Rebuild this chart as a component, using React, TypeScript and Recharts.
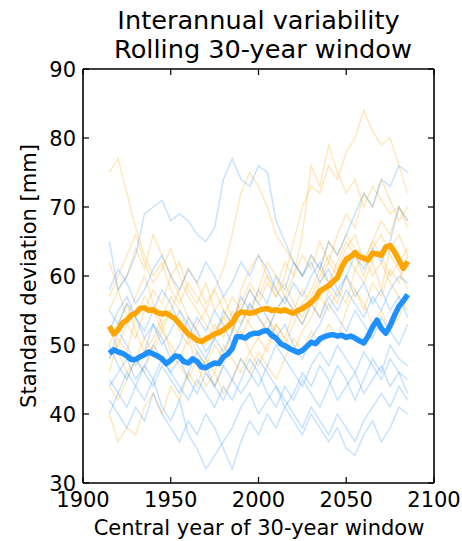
import { LineChart, Line, XAxis, YAxis } from 'recharts';

// ensemble members, one value every 5 years
const memberYears = [
  1915, 1920, 1925, 1930, 1935, 1940, 1945, 1950, 1955, 1960, 1965, 1970,
  1975, 1980, 1985, 1990, 1995, 2000, 2005, 2010, 2015, 2020, 2025, 2030,
  2035, 2040, 2045, 2050, 2055, 2060, 2065, 2070, 2075, 2080, 2085,
];

const orangeMembers = [
  [75, 77, 72, 67, 63, 60, 62, 58, 56, 59, 57, 55, 58, 61, 66, 72, 75, 73, 70, 66, 64, 62, 60, 63, 61, 65, 63, 66, 64, 62, 65, 63, 60, 62, 64],
  [55, 58, 54, 57, 60, 56, 53, 55, 52, 50, 53, 55, 52, 54, 57, 55, 58, 56, 59, 57, 60, 65, 70, 73, 72, 76, 74, 78, 80, 84, 81, 79, 80, 76, 72],
  [48, 50, 53, 51, 55, 58, 56, 60, 57, 54, 52, 50, 53, 51, 55, 53, 56, 54, 52, 55, 57, 60, 66, 76, 73, 79, 75, 72, 74, 70, 73, 71, 69, 70, 68],
  [40, 36, 38, 37, 41, 43, 40, 44, 42, 46, 44, 48, 46, 50, 48, 46, 49, 51, 49, 53, 51, 55, 53, 56, 54, 58, 56, 60, 58, 55, 59, 57, 61, 59, 63],
  [62, 58, 60, 64, 61, 66, 63, 60, 62, 58, 56, 59, 55, 57, 54, 56, 59, 57, 60, 58, 62, 60, 63, 61, 65, 62, 66, 69, 67, 72, 70, 74, 71, 68, 70],
  [50, 53, 56, 52, 49, 51, 54, 57, 55, 52, 49, 47, 50, 48, 52, 55, 53, 51, 54, 52, 50, 53, 56, 58, 61, 59, 62, 65, 63, 60, 64, 66, 63, 61, 58],
  [44, 42, 45, 48, 46, 50, 53, 49, 47, 45, 48, 46, 44, 47, 50, 52, 49, 47, 50, 53, 51, 49, 52, 54, 57, 55, 58, 56, 61, 63, 60, 62, 59, 57, 55],
  [57, 60, 63, 66, 62, 59, 61, 64, 60, 57, 55, 53, 51, 54, 52, 58, 61, 63, 60, 57, 59, 56, 54, 57, 60, 63, 61, 64, 66, 62, 65, 68, 66, 70, 67],
  [53, 49, 46, 48, 51, 49, 52, 50, 48, 51, 47, 44, 46, 43, 45, 48, 46, 49, 47, 45, 48, 51, 49, 52, 50, 53, 51, 55, 58, 56, 53, 55, 52, 54, 57],
  [46, 51, 49, 54, 57, 55, 52, 55, 58, 61, 59, 56, 58, 55, 53, 51, 54, 58, 62, 60, 57, 55, 58, 56, 59, 62, 60, 63, 61, 59, 62, 58, 64, 66, 63],
];

const blueMembers = [
  [65, 58, 60, 63, 69, 70, 71, 68, 69, 68, 66, 65, 67, 74, 77, 74, 73, 76, 75, 68, 65, 62, 60, 62, 59, 61, 58, 60, 57, 59, 56, 58, 55, 57, 54],
  [48, 52, 50, 47, 49, 53, 51, 48, 50, 54, 52, 49, 51, 55, 53, 57, 55, 58, 56, 60, 58, 62, 60, 63, 61, 65, 63, 66, 69, 72, 70, 74, 73, 76, 75],
  [45, 43, 46, 44, 42, 45, 41, 39, 42, 37, 35, 32, 34, 36, 38, 41, 43, 40, 42, 44, 41, 43, 46, 44, 47, 45, 42, 44, 46, 43, 45, 47, 44, 46, 43],
  [42, 40, 38, 41, 39, 43, 40, 38, 36, 39, 37, 40, 38, 35, 32, 36, 39, 37, 40, 38, 41, 39, 37, 40, 38, 36, 38, 35, 34, 37, 39, 36, 38, 41, 40],
  [50, 47, 45, 48, 46, 44, 47, 45, 43, 46, 49, 47, 44, 42, 45, 48, 46, 44, 47, 50, 48, 46, 44, 47, 49, 47, 50, 48, 46, 49, 47, 45, 48, 46, 45],
  [55, 53, 56, 54, 52, 55, 58, 56, 53, 51, 54, 52, 55, 53, 50, 53, 56, 54, 52, 55, 57, 55, 53, 56, 54, 57, 55, 58, 56, 54, 57, 55, 58, 60, 59],
  [40, 43, 41, 44, 47, 45, 48, 46, 44, 42, 45, 43, 41, 44, 42, 45, 48, 46, 43, 41, 44, 42, 45, 43, 41, 44, 47, 45, 42, 45, 48, 46, 50, 48, 47],
  [52, 55, 57, 54, 51, 53, 50, 52, 55, 53, 50, 48, 51, 49, 52, 55, 58, 56, 54, 51, 53, 50, 48, 51, 53, 56, 54, 52, 55, 53, 51, 54, 52, 50, 53],
  [58, 61, 59, 56, 58, 61, 63, 60, 58, 61, 59, 62, 60, 57, 59, 62, 60, 63, 61, 58, 56, 59, 57, 60, 62, 59, 57, 60, 63, 61, 64, 62, 65, 70, 68],
  [44, 46, 48, 45, 47, 50, 48, 46, 48, 45, 43, 46, 44, 47, 45, 43, 45, 48, 46, 44, 42, 40, 38, 41, 39, 37, 40, 38, 36, 39, 41, 43, 41, 44, 42],
];

// ensemble means
const meanYears = [
  1915, 1917.5, 1920, 1922.5, 1925, 1927.5, 1930, 1932.5, 1935, 1937.5,
  1940, 1942.5, 1945, 1947.5, 1950, 1952.5, 1955, 1957.5, 1960, 1962.5,
  1965, 1967.5, 1970, 1972.5, 1975, 1977.5, 1980, 1982.5, 1985, 1987.5,
  1990, 1992.5, 1995, 1997.5, 2000, 2002.5, 2005, 2007.5, 2010, 2012.5,
  2015, 2017.5, 2020, 2022.5, 2025, 2027.5, 2030, 2032.5, 2035, 2037.5,
  2040, 2042.5, 2045, 2047.5, 2050, 2052.5, 2055, 2057.5, 2060, 2062.5,
  2065, 2067.5, 2070, 2072.5, 2075, 2077.5, 2080, 2082.5, 2085,
];

const orangeMean = [
  52.7, 51.6, 52.2, 53.2, 53.6, 54.3, 54.6, 55.3, 55.4, 55.0,
  55.1, 54.7, 54.5, 54.6, 54.2, 53.8, 53.1, 52.3, 51.6, 51.2,
  50.7, 50.5, 50.9, 51.2, 51.6, 51.8, 52.2, 52.7, 53.2, 54.3,
  54.8, 54.7, 54.6, 54.7, 55.0, 55.2, 55.3, 55.0, 55.1, 54.9,
  55.1, 54.8, 54.6, 55.0, 55.3, 55.7, 56.2, 56.8, 57.8, 58.2,
  58.6, 59.2, 59.8, 61.3, 62.4, 62.8, 63.4, 62.8, 62.6, 62.3,
  63.3, 63.2, 63.0, 64.2, 64.4, 63.5, 62.3, 61.1, 62.1,
];

const blueMean = [
  48.8, 49.3, 49.0, 48.8, 48.4, 47.9, 47.9, 48.3, 48.6, 49.0,
  48.7, 48.4, 48.0, 47.3, 47.8, 48.4, 48.3, 47.6, 47.4, 48.0,
  47.6, 46.8, 46.7, 47.1, 47.4, 47.3, 48.3, 48.7, 49.5, 51.2,
  51.2, 51.0, 51.5, 51.7, 51.7, 52.0, 52.1, 51.4, 51.0, 50.2,
  49.9, 49.5, 49.2, 48.9, 49.2, 49.8, 50.4, 50.2, 50.9, 51.2,
  51.4, 51.5, 51.3, 51.4, 51.1, 51.3, 51.0, 50.6, 50.3, 51.3,
  52.6, 53.6, 52.4, 51.7, 52.8, 54.3, 55.6, 56.4, 57.3,
];

const xTicks = [1900, 1950, 2000, 2050, 2100];
const yTicks = [30, 40, 50, 60, 70, 80, 90];

const ORANGE = '#FFA500';
const BLUE = '#1E90FF';
const FONT = 'DejaVu Sans';

const memberRows = memberYears.map((year, i) => {
  const row: Record<string, number> = { year };
  orangeMembers.forEach((s, k) => (row['o' + k] = s[i]));
  blueMembers.forEach((s, k) => (row['b' + k] = s[i]));
  return row;
});

const meanRows = meanYears.map((year, i) => ({
  year,
  orange: orangeMean[i],
  blue: blueMean[i],
}));

const XTick = ({ x, y, payload }: any) => (
  <text x={x} y={y + 30} textAnchor="middle" fontSize={21} fontFamily={FONT} fill="#000">
    {payload.value}
  </text>
);

const YTick = ({ x, y, payload }: any) => (
  <text x={x - 13} y={y + 7.6} textAnchor="end" fontSize={21} fontFamily={FONT} fill="#000">
    {payload.value}
  </text>
);

const NoLabel = () => <g />;

export default function App() {
  const axisLine = { stroke: '#000', strokeWidth: 1.6 };
  const tickLine = { stroke: '#000', strokeWidth: 1.2 };
  return (
    <div style={{ position: 'absolute', left: 0, top: 0, width: 462, height: 541, background: '#fff' }}>
      <LineChart width={462} height={541} margin={{ top: 68, right: 27, bottom: 0, left: 0 }}>
        <XAxis
          dataKey="year"
          type="number"
          domain={[1900, 2100]}
          ticks={xTicks}
          height={58}
          tickSize={-6}
          tickMargin={0}
          axisLine={axisLine}
          tickLine={tickLine}
          tick={<XTick />}
          allowDataOverflow
        />
        <XAxis
          xAxisId="top"
          dataKey="year"
          orientation="top"
          type="number"
          domain={[1900, 2100]}
          ticks={xTicks}
          height={1}
          tickSize={-6}
          tickMargin={0}
          axisLine={axisLine}
          tickLine={tickLine}
          tick={<NoLabel />}
          allowDataOverflow
        />
        <YAxis
          type="number"
          domain={[30, 90]}
          ticks={yTicks}
          width={83}
          tickSize={-6}
          tickMargin={0}
          axisLine={axisLine}
          tickLine={tickLine}
          tick={<YTick />}
          allowDataOverflow
        />
        <YAxis
          yAxisId="right"
          orientation="right"
          type="number"
          domain={[30, 90]}
          ticks={yTicks}
          width={1}
          tickSize={-6}
          tickMargin={0}
          axisLine={axisLine}
          tickLine={tickLine}
          tick={<NoLabel />}
          allowDataOverflow
        />
        {/* invisible series so the top and right frame axes get drawn */}
        <Line
          xAxisId="top"
          yAxisId="right"
          data={meanRows}
          dataKey="blue"
          stroke="none"
          dot={false}
          activeDot={false}
          legendType="none"
          isAnimationActive={false}
        />
        {orangeMembers.map((_, k) => (
          <Line
            key={'o' + k}
            data={memberRows}
            dataKey={'o' + k}
            stroke={ORANGE}
            strokeOpacity={0.25}
            strokeWidth={1.5}
            dot={false}
            isAnimationActive={false}
          />
        ))}
        {blueMembers.map((_, k) => (
          <Line
            key={'b' + k}
            data={memberRows}
            dataKey={'b' + k}
            stroke={BLUE}
            strokeOpacity={0.25}
            strokeWidth={1.5}
            dot={false}
            isAnimationActive={false}
          />
        ))}
        <Line
          data={meanRows}
          dataKey="orange"
          stroke={ORANGE}
          strokeWidth={5.5}
          strokeLinejoin="round"
          dot={false}
          isAnimationActive={false}
        />
        <Line
          data={meanRows}
          dataKey="blue"
          stroke={BLUE}
          strokeWidth={5.5}
          strokeLinejoin="round"
          dot={false}
          isAnimationActive={false}
        />
      </LineChart>
      <svg
        width={462}
        height={541}
        style={{ position: 'absolute', left: 0, top: 0, pointerEvents: 'none' }}
        fontFamily={FONT}
        fill="#000"
      >
        <text x={258.5} y={29} textAnchor="middle" fontSize={25.6}>
          Interannual variability
        </text>
        <text x={263} y={58} textAnchor="middle" fontSize={25.6}>
          Rolling 30-year window
        </text>
        <text x={259} y={535} textAnchor="middle" fontSize={21}>
          Central year of 30-year window
        </text>
        <text transform="translate(36,276) rotate(-90)" textAnchor="middle" fontSize={21}>
          Standard deviation [mm]
        </text>
      </svg>
    </div>
  );
}
